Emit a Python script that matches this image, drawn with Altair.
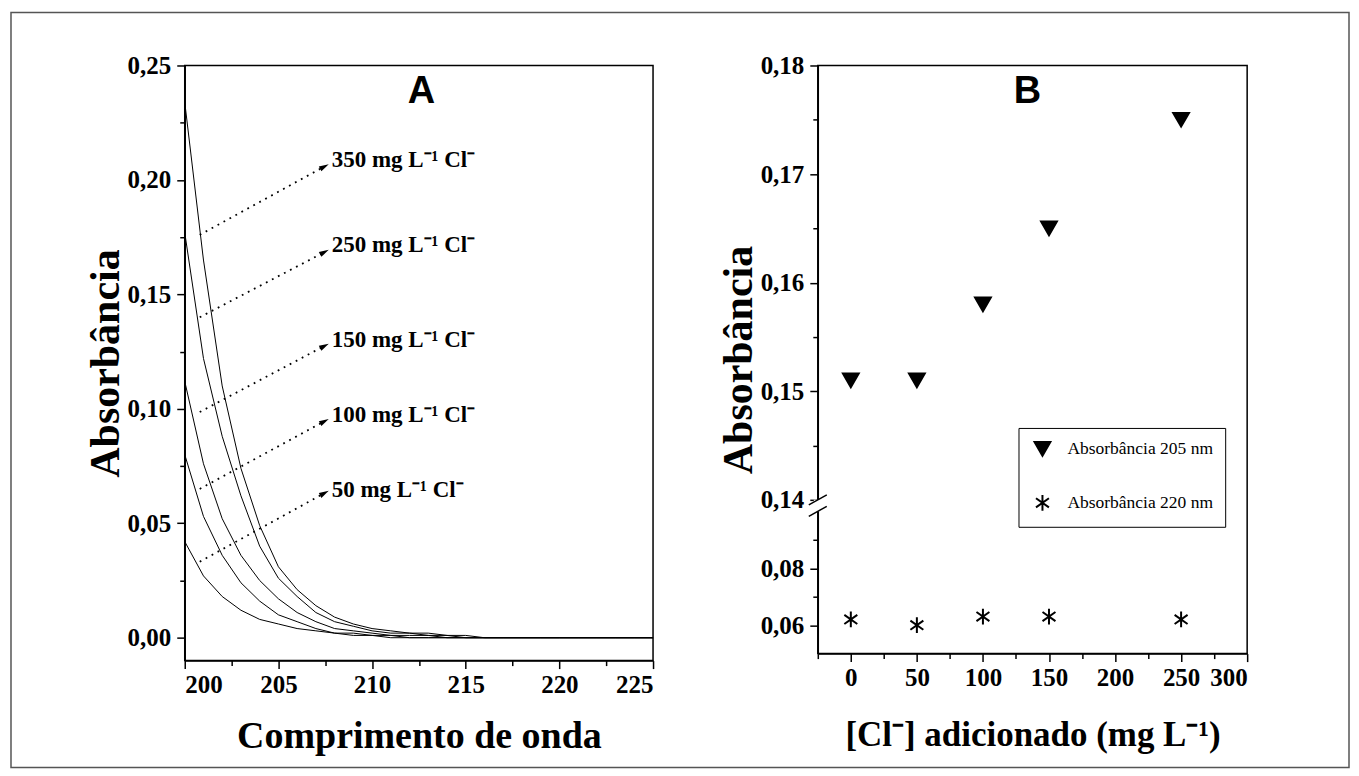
import altair as alt
import pandas as pd

# ---------------- Panel A data ----------------
wavelengths = list(range(200, 226))
abs_350 = [0.234, 0.165, 0.110, 0.074, 0.049, 0.031, 0.021, 0.014, 0.009, 0.006, 0.004, 0.003, 0.002,
           0.002, 0.001, 0.001, 0.0, 0.0, 0.0, 0.0, 0.0, 0.0, 0.0, 0.0, 0.0, 0.0]
abs_250 = [0.177, 0.122, 0.088, 0.062, 0.040, 0.026, 0.018, 0.011, 0.007, 0.005, 0.003, 0.002, 0.002,
           0.001, 0.001, 0.0, 0.0, 0.0, 0.0, 0.0, 0.0, 0.0, 0.0, 0.0, 0.0, 0.0]
abs_150 = [0.112, 0.076, 0.052, 0.036, 0.025, 0.017, 0.011, 0.007, 0.004, 0.003, 0.002, 0.001, 0.001,
           0.001, 0.0, 0.0, 0.0, 0.0, 0.0, 0.0, 0.0, 0.0, 0.0, 0.0, 0.0, 0.0]
abs_100 = [0.080, 0.053, 0.036, 0.024, 0.016, 0.010, 0.007, 0.004, 0.002, 0.002, 0.001, 0.001, 0.0,
           0.0, 0.0, 0.0, 0.0, 0.0, 0.0, 0.0, 0.0, 0.0, 0.0, 0.0, 0.0, 0.0]
abs_50 = [0.042, 0.027, 0.018, 0.012, 0.008, 0.006, 0.004, 0.003, 0.002, 0.001, 0.001, 0.0, 0.0,
          0.0, 0.0, 0.0, 0.0, 0.0, 0.0, 0.0, 0.0, 0.0, 0.0, 0.0, 0.0, 0.0]
conc_labels = ["350", "250", "150", "100", "50"]
curves = [abs_350, abs_250, abs_150, abs_100, abs_50]

ann_text = ["350 mg L\u207b\u00b9 Cl\u207b", "250 mg L\u207b\u00b9 Cl\u207b", "150 mg L\u207b\u00b9 Cl\u207b",
            "100 mg L\u207b\u00b9 Cl\u207b", "50 mg L\u207b\u00b9 Cl\u207b"]
arrow_x0 = [200.8, 200.8, 200.8, 200.8, 200.8]
arrow_y0 = [0.176, 0.140, 0.0986, 0.065, 0.0332]
arrow_x1 = [207.4, 207.4, 207.4, 207.4, 207.4]
arrow_y1 = [0.2056, 0.1682, 0.1272, 0.0943, 0.0629]
text_x = [207.85, 207.85, 207.85, 207.85, 207.85]
text_y = [0.2085, 0.1715, 0.1300, 0.0975, 0.0645]

xA_major = [200, 205, 210, 215, 220, 225]
xA_minor = [202.5, 207.5, 212.5, 217.5, 222.5]
yA_major = [0.0, 0.05, 0.10, 0.15, 0.20, 0.25]
yA_minor = [0.025, 0.075, 0.125, 0.175, 0.225]

# ---------------- Panel B data ----------------
cl_added = [0, 50, 100, 150, 250]
abs_205 = [0.151, 0.151, 0.158, 0.165, 0.175]
abs_220 = [0.062, 0.060, 0.063, 0.063, 0.062]
series_names = ["Absorbância 205 nm", "Absorbância 220 nm"]

xB_major = [0, 50, 100, 150, 200, 250, 300]
xB_minor = [-25, 25, 75, 125, 175, 225, 275]
yB_major = [0.06, 0.08, 0.14, 0.15, 0.16, 0.17, 0.18]
yB_minor = [0.07, 0.09, 0.145, 0.155, 0.165, 0.175]
break_values = [0.10, 0.14]

# broken axis mapping (lower segment 0.05-0.10, upper 0.14-0.18)
def tB(v):
    return (v - 0.05) * 2850 if v <= 0.12 else 154 + (v - 0.14) * 10875

def t_expr(f):
    return f"datum.{f} <= 0.12 ? (datum.{f} - 0.05) * 2850 : 154 + (datum.{f} - 0.14) * 10875"

comma2 = "replace(format(datum.value, '.2f'), '.', ',')"
B_label = ("replace(format(datum.value <= 148 ? datum.value / 2850 + 0.05 : "
           "(datum.value - 154) / 10875 + 0.14, '.2f'), '.', ',')")

SERIF = "Liberation Serif"
SANS = "Liberation Sans"
ARROW = "M0.883,-0.469L-0.319,0.678L-0.741,-0.116Z"
STAR = "M0,-1L0,1M-0.82,-0.58L0.82,0.58M-0.82,0.58L0.82,-0.58"

# ---------------- Panel A ----------------
rows = []
for c, vals in zip(conc_labels, curves):
    for w, a in zip(wavelengths, vals):
        rows.append({"conc": c, "wl": w, "abs": a})
dfA = pd.DataFrame(rows)

xA = alt.Scale(domain=[200, 225], nice=False, zero=False)
yA = alt.Scale(domain=[-0.01, 0.25], nice=False, zero=False)

border = alt.Chart(pd.DataFrame({"k": [0]})).mark_rect(
    fill="transparent", stroke="#555555", strokeWidth=1.5
).encode(x=alt.value(-174), x2=alt.value(1166), y=alt.value(-53), y2=alt.value(703))

linesA = alt.Chart(dfA).mark_line(color="black", strokeWidth=1).encode(
    x=alt.X("wl:Q", scale=xA, axis=alt.Axis(values=xA_major, title="Comprimento de onda",
                                            labelExpr="datum.value", titlePadding=20, labelPadding=4,
                                            titleFontSize=38)),
    y=alt.Y("abs:Q", scale=yA, axis=alt.Axis(values=yA_major, title="Absorbância", labelExpr=comma2,
                                             titlePadding=0, labelPadding=6, titleFontSize=42)),
    detail="conc:N",
)

minorA = alt.Chart(pd.DataFrame({"wl": [200], "abs": [0.0]})).mark_point(opacity=0).encode(
    x=alt.X("wl:Q", scale=xA, axis=alt.Axis(values=xA_minor, labels=False, tickSize=5, domain=False,
                                            title=None, orient="bottom")),
    y=alt.Y("abs:Q", scale=yA, axis=alt.Axis(values=yA_minor, labels=False, tickSize=5, domain=False,
                                             title=None, orient="left")),
)

arow = []
for i in range(5):
    arow.append({"id": i, "x": arrow_x0[i], "y": arrow_y0[i]})
    arow.append({"id": i, "x": arrow_x1[i], "y": arrow_y1[i]})
dfArrow = pd.DataFrame(arow)
annLines = alt.Chart(dfArrow).mark_line(color="black", strokeWidth=1.8, strokeDash=[1.8, 5]).encode(
    x=alt.X("x:Q", scale=xA, axis=None), y=alt.Y("y:Q", scale=yA, axis=None), detail="id:N")

dfHead = pd.DataFrame({"x": arrow_x1, "y": arrow_y1})
heads = alt.Chart(dfHead).mark_point(shape=ARROW, filled=True, color="black", size=150,
                                     opacity=1).encode(
    x=alt.X("x:Q", scale=xA, axis=None), y=alt.Y("y:Q", scale=yA, axis=None))

dfText = pd.DataFrame({"x": text_x, "y": text_y, "t": ann_text})
textsA = alt.Chart(dfText).mark_text(align="left", baseline="middle", font=SERIF, fontWeight="bold",
                                     fontSize=23, color="black").encode(
    x=alt.X("x:Q", scale=xA, axis=None), y=alt.Y("y:Q", scale=yA, axis=None), text="t:N")

titleA = alt.Chart(pd.DataFrame({"l": ["A"]})).mark_text(
    font=SANS, fontWeight="bold", fontSize=38, baseline="middle", color="black"
).encode(x=alt.value(237), y=alt.value(27), text="l:N")

panelA = alt.layer(border, linesA, minorA, annLines, heads, textsA, titleA).resolve_axis(
    x="independent", y="independent").properties(width=469, height=596)

# ---------------- Panel B ----------------
dfB = pd.DataFrame({
    "cl": cl_added + cl_added,
    "v": abs_205 + abs_220,
    "serie": [series_names[0]] * len(cl_added) + [series_names[1]] * len(cl_added),
})
xB = alt.Scale(domain=[-25, 300], nice=False, zero=False)
yB = alt.Scale(domain=[0, 589], nice=False, zero=False)

legB = alt.Legend(title=None, orient="none", legendX=835, legendY=363,
                  strokeColor="black", fillColor="white", padding=12, rowPadding=31,
                  symbolOffset=3,
                  labelFont=SERIF, labelFontSize=17.5, labelFontWeight="normal",
                  labelColor="black", labelOffset=16, symbolSize=250, symbolStrokeWidth=2)

pointsB = alt.Chart(dfB).transform_calculate(t=t_expr("v")).mark_point(
    filled=False, color="black", strokeWidth=2, opacity=1, size=250
).encode(
    x=alt.X("cl:Q", scale=xB, axis=alt.Axis(values=xB_major, title="[Cl\u207b] adicionado (mg L\u207b\u00b9)",
                                            labelExpr="datum.value", titlePadding=27, labelPadding=4,
                                            titleFontSize=35)),
    y=alt.Y("t:Q", scale=yB, axis=alt.Axis(values=[tB(v) for v in yB_major], title="Absorbância",
                                           labelExpr=B_label, titlePadding=0, labelPadding=6,
                                           titleFontSize=42)),
    shape=alt.Shape("serie:N", scale=alt.Scale(domain=series_names, range=["triangle-down", STAR]),
                    legend=legB),
    fill=alt.Fill("serie:N", scale=alt.Scale(domain=series_names, range=["black", "transparent"]),
                  legend=legB),
)

minorB = alt.Chart(pd.DataFrame({"cl": [0], "t": [0.0]})).mark_point(opacity=0).encode(
    x=alt.X("cl:Q", scale=xB, axis=alt.Axis(values=xB_minor, labels=False, tickSize=5, domain=False,
                                            title=None, orient="bottom")),
    y=alt.Y("t:Q", scale=yB, axis=alt.Axis(values=[tB(v) for v in yB_minor], labels=False, tickSize=5,
                                           domain=False, title=None, orient="left")),
)

dfBreak = pd.DataFrame({"b": break_values})
gap = alt.Chart(pd.DataFrame({"lo": [break_values[0]], "hi": [break_values[1]]})).transform_calculate(
    t0=t_expr("lo"), t1=t_expr("hi")
).mark_rect(fill="white").encode(
    x=alt.value(-4), x2=alt.value(4),
    y=alt.Y("t0:Q", scale=yB, axis=None), y2="t1:Q")
slashes = alt.Chart(dfBreak).transform_calculate(tb=t_expr("b")).transform_calculate(
    s0="datum.tb - 5", s1="datum.tb + 5"
).mark_rule(color="black", strokeWidth=1.5).encode(
    x=alt.value(-9), x2=alt.value(9),
    y=alt.Y("s0:Q", scale=yB, axis=None), y2="s1:Q")

titleB = alt.Chart(pd.DataFrame({"l": ["B"]})).mark_text(
    font=SANS, fontWeight="bold", fontSize=38, baseline="middle", color="black"
).encode(x=alt.value(210), y=alt.value(27), text="l:N")

panelB = alt.layer(pointsB, minorB, gap, slashes, titleB).resolve_axis(
    x="independent", y="independent").properties(width=430, height=589)

chart = alt.hconcat(panelA, panelB, spacing=165, bounds="flush").properties(
    padding={"left": 1, "top": 2, "right": 0, "bottom": 0}
).configure_view(stroke="black", strokeWidth=1.5).configure_axis(
    labelFont=SERIF, labelFontWeight="bold", labelFontSize=25, labelColor="black",
    titleFont=SERIF, titleFontWeight="bold", titleFontSize=36, titleColor="black",
    domainColor="black", domainWidth=1.5, tickColor="black", tickWidth=1.5, tickSize=8,
    grid=False,
)

chart.save("out.html", embed_options={"renderer": "svg", "actions": False})
